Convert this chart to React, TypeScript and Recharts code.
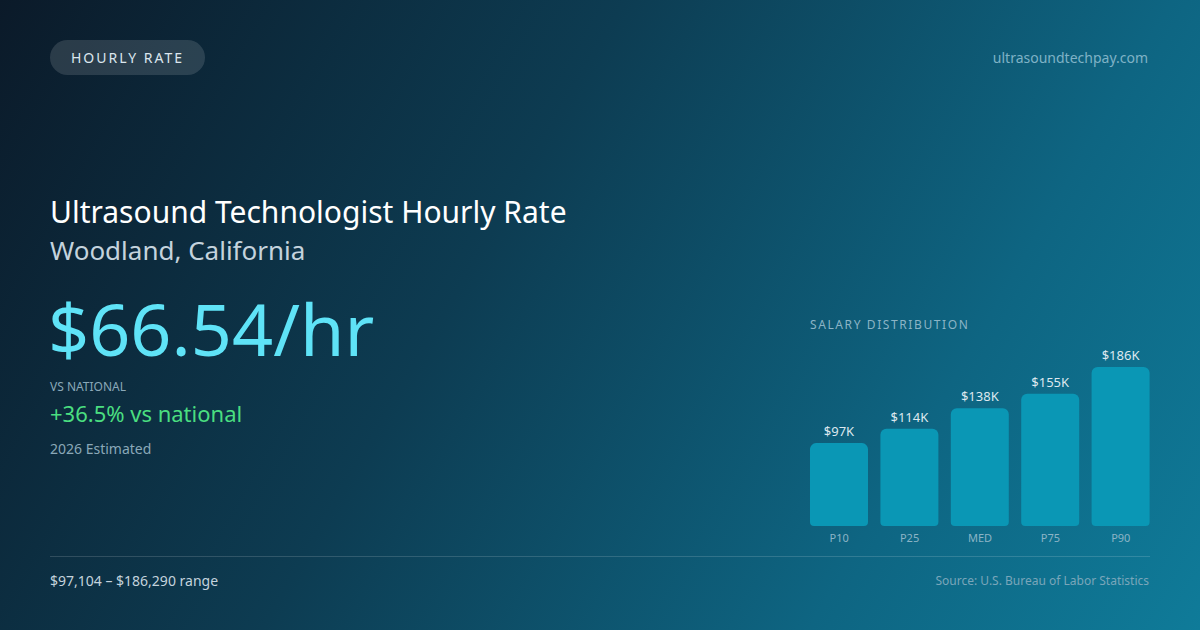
import React from "react";
import { BarChart, Bar, XAxis, YAxis, LabelList } from "recharts";

const categories = ["P10", "P25", "MED", "P75", "P90"];
const salaries = [97104, 114000, 138000, 155000, 186290];
const valueLabels = ["$97K", "$114K", "$138K", "$155K", "$186K"];

const data = categories.map((c, i) => ({ name: c, value: salaries[i], label: valueLabels[i] }));

const FONT = "'Noto Sans', 'Open Sans', sans-serif";

export default function App() {
  return (
    <div
      style={{
        position: "fixed",
        left: 0,
        top: 0,
        width: 1200,
        height: 630,
        overflow: "hidden",
        fontFamily: FONT,
        background: "linear-gradient(120deg, #0b1a29 0%, #0d3c52 40%, #0e6582 75%, #0f7b99 100%)",
      }}
    >
      <div
        style={{
          position: "absolute",
          left: 50,
          top: 40,
          width: 155,
          height: 35,
          borderRadius: 18,
          background: "rgba(255,255,255,0.13)",
          color: "#dbe6ee",
          fontSize: 14,
          letterSpacing: 2,
          lineHeight: "35px",
          textAlign: "center",
        }}
      >
        HOURLY RATE
      </div>
      <div style={{ position: "absolute", right: 52, top: 48, fontSize: 14, color: "#7fb2c6" }}>
        ultrasoundtechpay.com
      </div>

      <div style={{ position: "absolute", left: 50, top: 192, fontSize: 30, color: "#ffffff", lineHeight: "40px" }}>
        Ultrasound Technologist Hourly Rate
      </div>
      <div style={{ position: "absolute", left: 50, top: 233, fontSize: 26, color: "#c4d3dd", lineHeight: "34px" }}>
        Woodland, California
      </div>
      <div style={{ position: "absolute", left: 48, top: 280, fontSize: 72, color: "#5fe3f7", lineHeight: "96px" }}>
        $66.54/hr
      </div>
      <div style={{ position: "absolute", left: 50, top: 379, fontSize: 12, color: "#8aa8b8", lineHeight: "16px" }}>
        VS NATIONAL
      </div>
      <div style={{ position: "absolute", left: 50, top: 398, fontSize: 22, color: "#4ade80", lineHeight: "30px" }}>
        +36.5% vs national
      </div>
      <div style={{ position: "absolute", left: 50, top: 440, fontSize: 14, color: "#8aa8b8", lineHeight: "18px" }}>
        2026 Estimated
      </div>

      <div
        style={{
          position: "absolute",
          left: 810,
          top: 317,
          fontSize: 12,
          letterSpacing: 1.6,
          color: "#8bb4c6",
          lineHeight: "16px",
        }}
      >
        SALARY DISTRIBUTION
      </div>

      <div style={{ position: "absolute", left: 804, top: 340 }}>
        <BarChart
          width={352}
          height={215}
          data={data}
          margin={{ top: 27, right: 0, bottom: 0, left: 0 }}
        >
          <XAxis
            dataKey="name"
            axisLine={false}
            tickLine={false}
            height={29}
            interval={0}
            tick={{ fill: "#8bb4c6", fontSize: 11, fontFamily: FONT }}
          />
          <YAxis hide domain={[0, "dataMax"]} />
          <Bar dataKey="value" fill="#0a97b5" barSize={58} radius={[6, 6, 4, 4]} isAnimationActive={false}>
            <LabelList
              dataKey="label"
              position="top"
              offset={7}
              fill="#dde8ef"
              fontSize={13}
              fontFamily={FONT}
            />
          </Bar>
        </BarChart>
      </div>

      <div
        style={{
          position: "absolute",
          left: 50,
          top: 556,
          width: 1100,
          height: 1,
          background: "rgba(255,255,255,0.15)",
        }}
      />
      <div style={{ position: "absolute", left: 50, top: 571, fontSize: 14, color: "#c4d3dd", lineHeight: "20px" }}>
        $97,104 – $186,290 range
      </div>
      <div style={{ position: "absolute", right: 51, top: 573, fontSize: 12, color: "#7aa6ba", lineHeight: "16px" }}>
        Source: U.S. Bureau of Labor Statistics
      </div>
    </div>
  );
}
